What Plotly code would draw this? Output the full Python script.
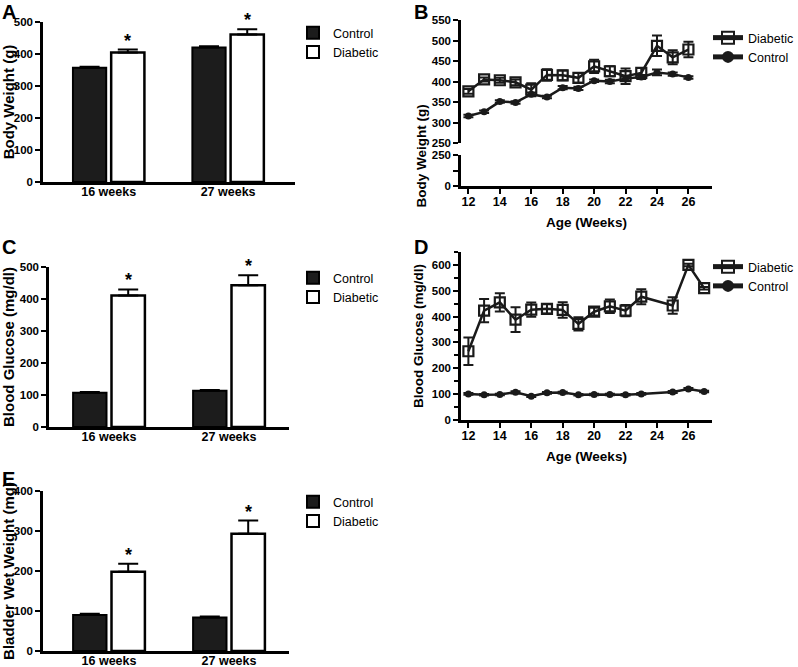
import plotly.graph_objects as go

# ---- bar panels (A, C, E) ----
groups = ["16 weeks", "27 weeks"]

bw_control = [357, 420]
bw_control_err = [3, 4]
bw_diabetic = [405, 461]
bw_diabetic_err = [9, 16]

bg_control = [107, 113]
bg_control_err = [2, 3]
bg_diabetic = [411, 443]
bg_diabetic_err = [19, 31]

bladder_control = [90, 84]
bladder_control_err = [3, 2]
bladder_diabetic = [198, 293]
bladder_diabetic_err = [20, 33]

# ---- weekly body weight (B) ----
age_b = [12, 13, 14, 15, 16, 17, 18, 19, 20, 21, 22, 23, 24, 25, 26]
bw_diab_week = [376, 405, 403, 398, 380, 416, 415, 409, 437, 425, 413, 421, 487, 459, 478]
bw_diab_week_err = [6, 5, 6, 7, 16, 14, 12, 12, 16, 12, 19, 12, 25, 17, 19]
bw_ctrl_week = [316, 326, 351, 349, 369, 362, 385, 383, 402, 400, 407, 411, 422, 418, 410]
bw_ctrl_week_err = [3, 3, 3, 3, 4, 3, 4, 4, 3, 4, 5, 5, 7, 4, 3]

# ---- weekly blood glucose (D) ----
age_d = [12, 13, 14, 15, 16, 17, 18, 19, 20, 21, 22, 23, 25, 26, 27]
bg_diab_week = [266, 423, 455, 388, 427, 430, 426, 372, 419, 440, 423, 477, 443, 600, 510]
bg_diab_week_err = [53, 45, 35, 48, 28, 18, 30, 26, 15, 26, 22, 29, 32, 5, 5]
bg_ctrl_week = [101, 98, 99, 107, 92, 105, 106, 98, 99, 99, 98, 101, 108, 120, 110]
bg_ctrl_week_err = [3, 3, 3, 4, 3, 3, 3, 3, 3, 3, 3, 3, 4, 4, 3]

W, H = 798, 667
FONT = "Liberation Sans, Arial, sans-serif"
BARGAP = 0.36


def fx(x):
    return x / W


def fy(y):
    return 1 - y / H


fig = go.Figure()

bar_panels = [
    ("x", "y", "legend", bw_control, bw_control_err, bw_diabetic, bw_diabetic_err),
    ("x4", "y4", "legend3", bg_control, bg_control_err, bg_diabetic, bg_diabetic_err),
    ("x6", "y6", "legend5", bladder_control, bladder_control_err, bladder_diabetic, bladder_diabetic_err),
]
for xa, ya, lg, c, ce, d, de in bar_panels:
    fig.add_trace(go.Bar(
        x=groups, y=c, name="Control", xaxis=xa, yaxis=ya, legend=lg,
        marker=dict(color="#1c1c1c", line=dict(color="black", width=2)),
        error_y=dict(type="data", symmetric=False, array=ce, arrayminus=[0, 0],
                     color="black", thickness=2, width=10),
    ))
    fig.add_trace(go.Bar(
        x=groups, y=d, name="Diabetic", xaxis=xa, yaxis=ya, legend=lg,
        marker=dict(color="white", line=dict(color="black", width=2.5)),
        error_y=dict(type="data", symmetric=False, array=de, arrayminus=[0, 0],
                     color="black", thickness=2, width=10),
    ))
    # significance stars above the diabetic bars
    for i, (v, e) in enumerate(zip(d, de)):
        fig.add_annotation(x=i + (1 - BARGAP) / 4, y=v + e, xref=xa, yref=ya,
                           text="*", showarrow=False, yanchor="bottom", yshift=-3,
                           font=dict(family=FONT, size=18, color="black", weight="bold"))

line_panels = [
    ("x3", "y2", "legend2", age_b, bw_diab_week, bw_diab_week_err, bw_ctrl_week, bw_ctrl_week_err),
    ("x5", "y5", "legend4", age_d, bg_diab_week, bg_diab_week_err, bg_ctrl_week, bg_ctrl_week_err),
]
for xa, ya, lg, ages, d, de, c, ce in line_panels:
    fig.add_trace(go.Scatter(
        x=ages, y=d, name="Diabetic", mode="lines+markers", xaxis=xa, yaxis=ya, legend=lg,
        line=dict(color="#1a1a1a", width=2.5),
        marker=dict(symbol="square-open", size=10, color="#1a1a1a", line=dict(width=2.2)),
        error_y=dict(type="data", array=de, color="#1a1a1a", thickness=2, width=5),
    ))
    fig.add_trace(go.Scatter(
        x=ages, y=c, name="Control", mode="lines+markers", xaxis=xa, yaxis=ya, legend=lg,
        line=dict(color="#1a1a1a", width=2.5),
        marker=dict(symbol="circle", size=7, color="#1a1a1a"),
        error_y=dict(type="data", array=ce, color="#1a1a1a", thickness=2, width=5),
    ))

# empty lower segment of the broken axis in B
fig.add_trace(go.Scatter(x=[], y=[], xaxis="x3", yaxis="y3", showlegend=False))

tickfont = dict(family=FONT, size=11.5, color="black", weight="bold")
titlefont = dict(family=FONT, size=13.5, color="black", weight="bold")
left_titlefont = dict(family=FONT, size=15, color="black", weight="bold")

axis_common = dict(showline=True, linecolor="black", linewidth=2.5, showgrid=False,
                   zeroline=False, tickfont=tickfont, tickcolor="black", automargin=False)

def bar_x(domain, anchor, rng):
    return dict(axis_common, domain=domain, anchor=anchor, type="category",
                range=rng, ticks="", ticklabelstandoff=-4,
                tickfont=dict(family=FONT, size=12.5, color="black", weight="bold"))

def bar_y(domain, anchor, rng, dtick, title):
    return dict(axis_common, domain=domain, anchor=anchor, range=rng, dtick=dtick,
                ticks="outside", ticklen=5, tickwidth=2,
                title=dict(text=title, font=left_titlefont, standoff=6))

def week_x(domain, anchor):
    return dict(axis_common, domain=domain, anchor=anchor, range=[11.53, 27.5],
                tickvals=[12, 14, 16, 18, 20, 22, 24, 26], ticks="outside", ticklen=5,
                tickwidth=2, tickfont=dict(tickfont, size=12.5), ticklabelstandoff=-3,
                title=dict(text="Age (Weeks)", font=titlefont, standoff=10))

fig.update_layout(
    width=W, height=H,
    margin=dict(l=0, r=0, t=0, b=0, autoexpand=False),
    paper_bgcolor="white", plot_bgcolor="white",
    barmode="group", bargap=BARGAP, bargroupgap=0.13,
    font=dict(family=FONT, color="black"),
    # A
    xaxis=bar_x([fx(43), fx(295)], "y", [-0.55, 1.56]),
    yaxis=bar_y([fy(182), fy(22)], "x", [0, 500], 100, "Body Weight (g)"),
    # C
    xaxis4=bar_x([fx(49), fx(289)], "y4", [-0.5, 1.5]),
    yaxis4=bar_y([fy(427), fy(267)], "x4", [0, 500], 100, "Blood Glucose (mg/dl)"),
    # E
    xaxis6=bar_x([fx(43), fx(289)], "y6", [-0.55, 1.5]),
    yaxis6=bar_y([fy(651), fy(491)], "x6", [0, 400], 100, "Bladder Wet Weight (mg)"),
    # B (broken y axis)
    xaxis3=week_x([fx(461), fx(712)], "y3"),
    yaxis2=dict(axis_common, domain=[fy(143), fy(20)], anchor="x3", range=[250, 550],
                dtick=50, ticks="outside", ticklen=5, tickwidth=2),
    yaxis3=dict(axis_common, domain=[fy(186), fy(155)], anchor="x3", range=[0, 250],
                tickvals=[0, 250], ticks="outside", ticklen=5, tickwidth=2,
                minor=dict(tickvals=[125], ticks="outside", ticklen=5, tickwidth=2,
                           tickcolor="black")),
    # D
    xaxis5=week_x([fx(461), fx(712)], "y5"),
    yaxis5=dict(axis_common, domain=[fy(420), fy(252)], anchor="x5", range=[0, 650],
                dtick=100, ticks="outside", ticklen=5, tickwidth=2,
                minor=dict(dtick=50, ticks="outside", ticklen=4, tickwidth=2, tickcolor="black"),
                title=dict(text="Blood Glucose (mg/dl)", font=titlefont, standoff=6)),
)

fig.add_annotation(x=fx(421), y=(fy(20) + fy(186)) / 2, xref="paper", yref="paper",
                   text="Body Weight (g)", textangle=-90, showarrow=False,
                   font=titlefont)

legend_style = dict(font=dict(family=FONT, size=12.5, color="black"), bgcolor="rgba(0,0,0,0)",
                    xanchor="left", yanchor="top", tracegroupgap=0, itemsizing="constant",
                    itemwidth=30)
fig.update_layout(
    legend=dict(legend_style, x=fx(293), y=fy(18), traceorder="normal"),
    legend3=dict(legend_style, x=fx(293), y=fy(263), traceorder="normal"),
    legend5=dict(legend_style, x=fx(293), y=fy(487), traceorder="normal"),
    legend2=dict(legend_style, x=fx(708), y=fy(23), traceorder="normal"),
    legend4=dict(legend_style, x=fx(708), y=fy(252), traceorder="normal"),
)

for label, x, y in [("A", 0, -1), ("B", 412, -1), ("C", 0, 234), ("D", 412, 234), ("E", 0, 466)]:
    fig.add_annotation(x=fx(x), y=fy(y), xref="paper", yref="paper", text=label,
                       showarrow=False, xanchor="left", yanchor="top",
                       font=dict(family=FONT, size=20, color="black", weight="bold"))

fig.write_html("out.html", config={"displayModeBar": False},
               post_script="document.body.style.margin = '0';")
